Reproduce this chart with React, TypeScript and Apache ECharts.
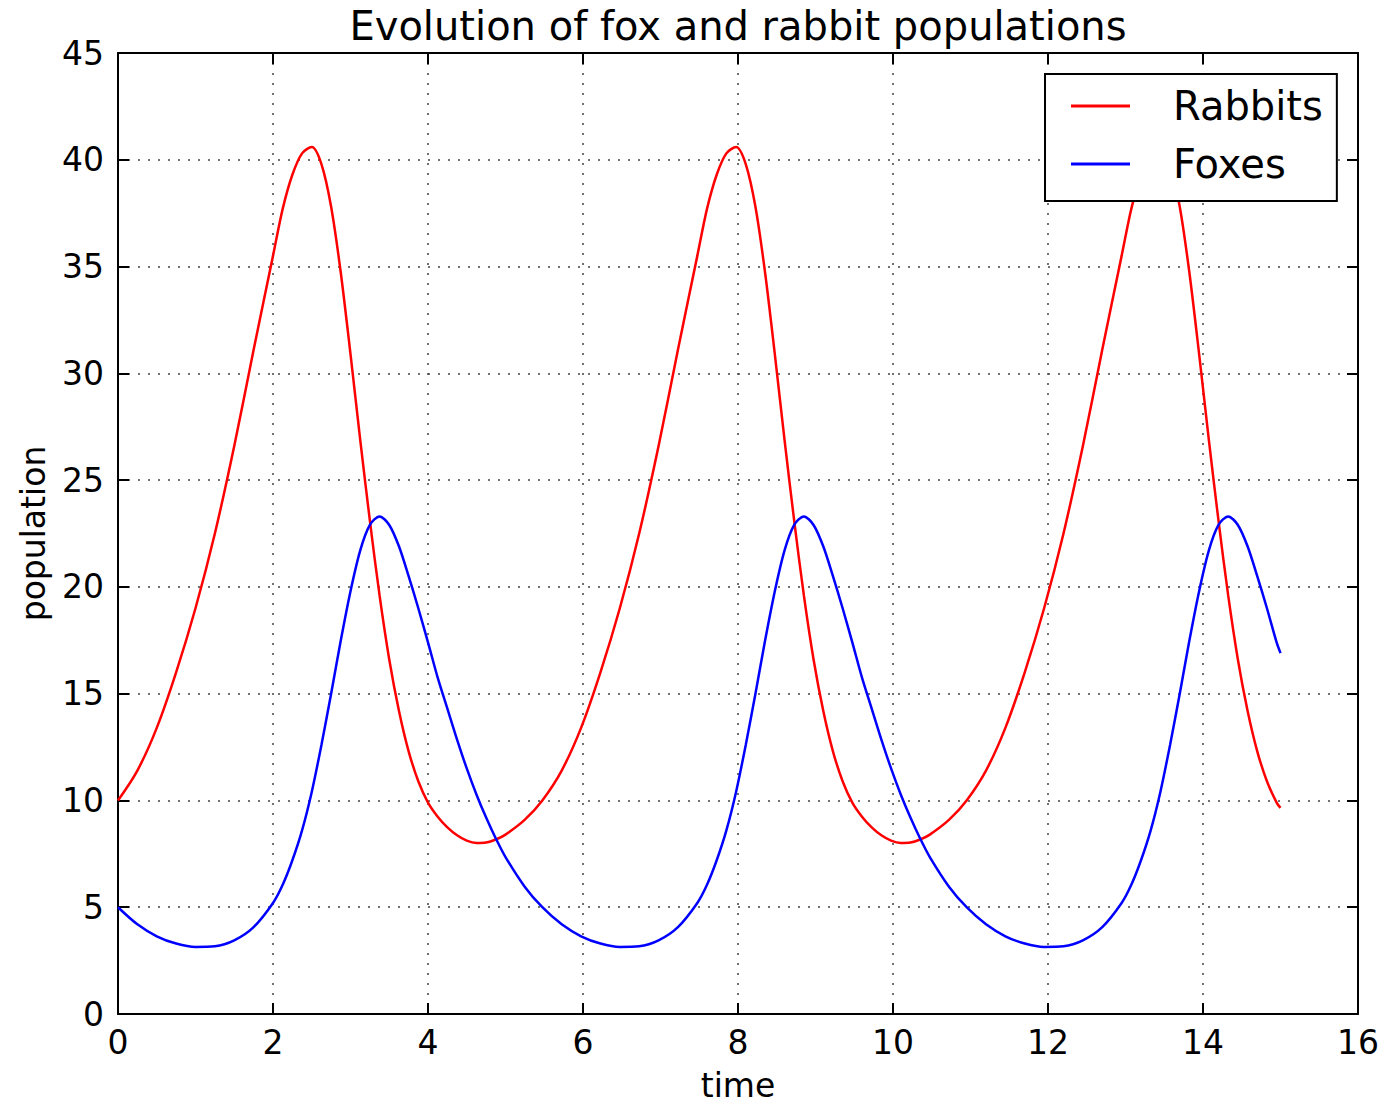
import React, { useEffect, useRef } from "react";
import * as echarts from "echarts";

const titleText = "Evolution of fox and rabbit populations";
const xTickInterval = 2;
const yTickInterval = 5;
const xMin = 0;
const xMax = 16;
const yMin = 0;
const yMax = 45;

// sample times
const time = [
  0, 0.25, 0.5, 0.75, 1.0, 1.25, 1.5, 1.75, 2.0, 2.125, 2.25, 2.375, 2.5, 2.625, 2.75, 2.875, 3.0, 3.125, 3.25, 3.375, 3.5, 3.625, 3.75, 3.875, 4.0, 4.125, 4.25, 4.375, 4.5, 4.625, 4.75, 4.875, 5.0, 5.25,
  5.475, 5.725, 5.975, 6.225, 6.475, 6.725, 6.975, 7.225, 7.475, 7.6, 7.725, 7.85, 7.975, 8.1, 8.225, 8.35, 8.475, 8.6, 8.725, 8.85, 8.975, 9.1, 9.225, 9.35, 9.475, 9.6, 9.725, 9.85, 9.975, 10.1, 10.225, 10.35, 10.475, 10.725,
  10.95, 11.2, 11.45, 11.7, 11.95, 12.2, 12.45, 12.7, 12.95, 13.075, 13.2, 13.325, 13.45, 13.575, 13.7, 13.825, 13.95, 14.075, 14.2, 14.325, 14.45, 14.575, 14.7, 14.825, 14.95, 15.0,
];

const rabbits = [
  10.0, 11.4, 13.4, 16.0, 19.0, 22.5, 26.6, 31.1, 35.5, 37.7, 39.3, 40.3, 40.6, 39.8, 37.8, 34.7, 30.9, 26.9, 23.1, 19.6, 16.6, 14.2, 12.3, 10.9, 9.9, 9.24, 8.74, 8.37, 8.12, 8.01, 8.03, 8.17, 8.4, 9.1,
  10.0, 11.4, 13.4, 16.0, 19.0, 22.5, 26.6, 31.1, 35.5, 37.7, 39.3, 40.3, 40.6, 39.8, 37.8, 34.7, 30.9, 26.9, 23.1, 19.6, 16.6, 14.2, 12.3, 10.9, 9.9, 9.24, 8.74, 8.37, 8.12, 8.01, 8.03, 8.17, 8.4, 9.1,
  10.0, 11.4, 13.4, 16.0, 19.0, 22.5, 26.6, 31.1, 35.5, 37.7, 39.3, 40.3, 40.6, 39.8, 37.8, 34.7, 30.9, 26.9, 23.1, 19.6, 16.6, 14.2, 12.3, 10.9, 9.9, 9.65,
];

const foxes = [
  5.0, 4.2, 3.64, 3.3, 3.14, 3.17, 3.45, 4.07, 5.2, 6.05, 7.2, 8.6, 10.4, 12.6, 15.0, 17.5, 19.8, 21.7, 22.9, 23.3, 22.9, 21.9, 20.5, 19.0, 17.4, 15.75, 14.3, 12.85, 11.5, 10.28, 9.2, 8.22, 7.35, 5.95,
  5.0, 4.2, 3.64, 3.3, 3.14, 3.17, 3.45, 4.07, 5.2, 6.05, 7.2, 8.6, 10.4, 12.6, 15.0, 17.5, 19.8, 21.7, 22.9, 23.3, 22.9, 21.9, 20.5, 19.0, 17.4, 15.75, 14.3, 12.85, 11.5, 10.28, 9.2, 8.22, 7.35, 5.95,
  5.0, 4.2, 3.64, 3.3, 3.14, 3.17, 3.45, 4.07, 5.2, 6.05, 7.2, 8.6, 10.4, 12.6, 15.0, 17.5, 19.8, 21.7, 22.9, 23.3, 22.9, 21.9, 20.5, 19.0, 17.4, 16.9,
];

const FONT = "DejaVu Sans";

export default function App() {
  const ref = useRef<HTMLDivElement>(null);
  useEffect(() => {
    if (!ref.current) return;
    const chart = echarts.init(ref.current, null, { renderer: "svg" });
    const rabbitData = time.map((t, i) => [t, rabbits[i]]);
    const foxData = time.map((t, i) => [t, foxes[i]]);
    const gridLine = { show: true, lineStyle: { color: "#444", width: 1.5, type: [2, 8] as any } };
    const tick = { show: true, inside: true, length: 11, lineStyle: { color: "#000", width: 2 } };
    const axisLine = { show: true, onZero: false, lineStyle: { color: "#000", width: 2 } };
    chart.setOption({
      animation: false,
      backgroundColor: "#fff",
      grid: { left: 118, top: 53, right: 26, bottom: 95, show: false, outerBoundsMode: "none" },
      graphic: [
        {
          type: "text",
          x: 738,
          y: 26,
          style: { text: titleText, fontSize: 40, fontFamily: FONT, fill: "#000", align: "center", verticalAlign: "middle" },
        },
      ],
      legend: {
        orient: "vertical",
        left: 1045,
        top: 74,
        icon: "rect",
        itemWidth: 59,
        itemHeight: 3,
        itemGap: 18,
        borderColor: "#000",
        borderWidth: 2,
        borderRadius: 0,
        backgroundColor: "#fff",
        padding: [12, 14, 17, 26],
        textStyle: { fontSize: 40, fontFamily: FONT, color: "#000", padding: [0, 0, 0, 38] },
        data: ["Rabbits", "Foxes"],
      },
      xAxis: [
        {
          type: "value",
          min: xMin,
          max: xMax,
          interval: xTickInterval,
          position: "bottom",
          axisLine,
          axisTick: tick,
          splitLine: gridLine,
          axisLabel: { fontSize: 33, fontFamily: FONT, color: "#000", margin: 12 },
          name: "time",
          nameLocation: "middle",
          nameGap: 55,
          nameTextStyle: { fontSize: 33, fontFamily: FONT, color: "#000" },
        },
        {
          type: "value",
          min: xMin,
          max: xMax,
          interval: xTickInterval,
          position: "top",
          axisLine,
          axisTick: tick,
          splitLine: { show: false },
          axisLabel: { show: false },
        },
      ],
      yAxis: [
        {
          type: "value",
          min: yMin,
          max: yMax,
          interval: yTickInterval,
          position: "left",
          axisLine,
          axisTick: tick,
          splitLine: gridLine,
          axisLabel: { fontSize: 33, fontFamily: FONT, color: "#000", margin: 14 },
          name: "population",
          nameLocation: "middle",
          nameGap: 68,
          nameTextStyle: { fontSize: 33, fontFamily: FONT, color: "#000" },
        },
        {
          type: "value",
          min: yMin,
          max: yMax,
          interval: yTickInterval,
          position: "right",
          axisLine,
          axisTick: tick,
          splitLine: { show: false },
          axisLabel: { show: false },
        },
      ],
      series: [
        {
          name: "Rabbits",
          type: "line",
          data: rabbitData,
          symbol: "none",
          smooth: 0.3,
          lineStyle: { color: "#ff0000", width: 2.5 },
          itemStyle: { color: "#ff0000" },
        },
        {
          name: "Foxes",
          type: "line",
          data: foxData,
          symbol: "none",
          smooth: 0.3,
          lineStyle: { color: "#0000ff", width: 2.5 },
          itemStyle: { color: "#0000ff" },
        },
      ],
    });
    return () => chart.dispose();
  }, []);
  return (
    <div
      ref={ref}
      style={{ position: "absolute", left: 0, top: 0, width: 1384, height: 1109, background: "#fff" }}
    />
  );
}
